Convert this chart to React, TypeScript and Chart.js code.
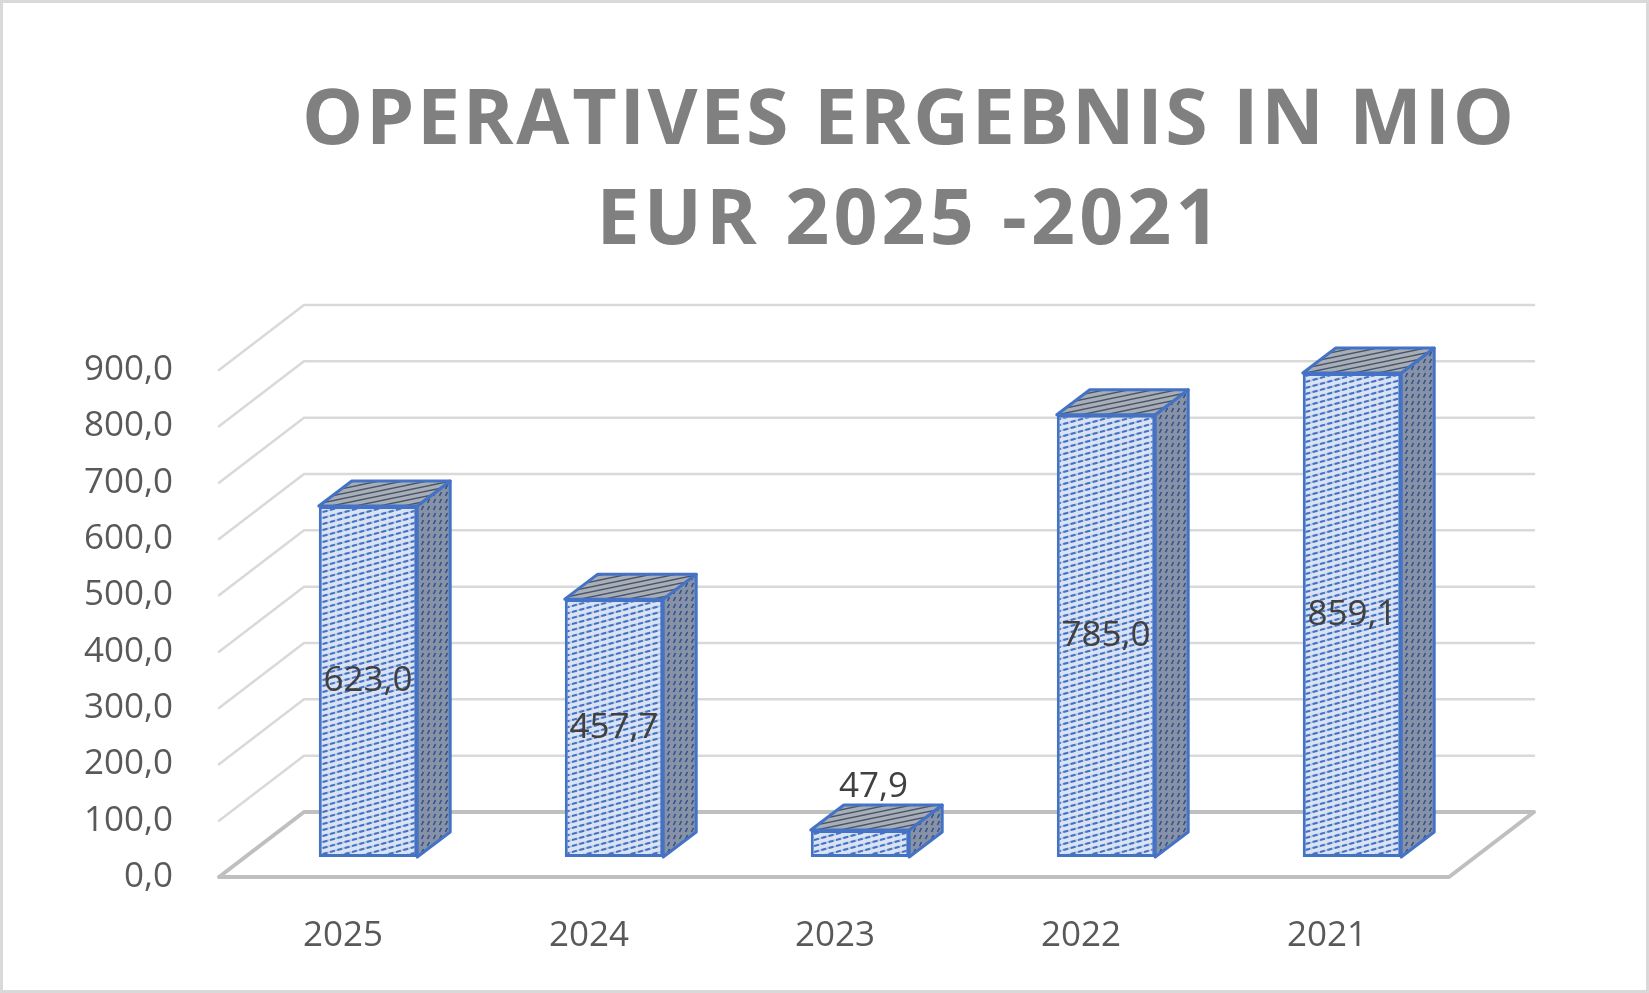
import React from 'react'
import { Chart, registerables, type Plugin } from 'chart.js'

Chart.register(...registerables)

// Chart data
const years = ['2025', '2024', '2023', '2022', '2021']
const ergebnis = [623.0, 457.7, 47.9, 785.0, 859.1]
const yTickValues = [0, 100, 200, 300, 400, 500, 600, 700, 800, 900]
const titleLines = ['OPERATIVES ERGEBNIS IN MIO', 'EUR 2025 -2021']

const fmt = (v: number) => v.toFixed(1).replace('.', ',')

// 3D projection (pixel offsets relative to the bars' front plane)
const FRONT = { dx: -26, dy: 20 }
const BACK = { dx: 59, dy: -45 }
const BAR_DEPTH = { dx: 33, dy: -25 }

const BLUE = '#4472c4'

function makePattern(
  w: number,
  h: number,
  bg: string,
  draw: (ctx: CanvasRenderingContext2D) => void
): CanvasPattern | string {
  const c = document.createElement('canvas')
  c.width = w
  c.height = h
  const ctx = c.getContext('2d')
  if (!ctx) return bg
  ctx.fillStyle = bg
  ctx.fillRect(0, 0, w, h)
  draw(ctx)
  return ctx.createPattern(c, 'repeat') ?? bg
}

function stripes(ctx: CanvasRenderingContext2D, w: number, h: number, color: string, lw: number, dash: number[]) {
  ctx.strokeStyle = color
  ctx.lineWidth = lw
  ctx.setLineDash(dash)
  for (const off of [-h, 0, h]) {
    ctx.beginPath()
    ctx.moveTo(0, h + off)
    ctx.lineTo(w, off)
    ctx.stroke()
  }
  ctx.setLineDash([])
}

const wallsPlugin: Plugin<'bar'> = {
  id: 'walls',
  beforeDatasetsDraw(chart) {
    const { ctx, chartArea: a } = chart
    const y = chart.scales.y
    ctx.save()
    ctx.lineCap = 'round'
    ctx.lineJoin = 'round'
    for (const v of yTickValues) {
      const py = y.getPixelForValue(v)
      const floor = v === 0
      ctx.strokeStyle = floor ? '#bfbfbf' : '#d9d9d9'
      ctx.lineWidth = floor ? 4 : 2.5
      ctx.beginPath()
      ctx.moveTo(a.left + FRONT.dx, py + FRONT.dy)
      ctx.lineTo(a.left + BACK.dx, py + BACK.dy)
      ctx.lineTo(a.right + BACK.dx, py + BACK.dy)
      if (floor) {
        ctx.lineTo(a.right + FRONT.dx, py + FRONT.dy)
        ctx.lineTo(a.left + FRONT.dx, py + FRONT.dy)
      }
      ctx.stroke()
    }
    ctx.restore()
  }
}

function makeBoxPlugin(sidePattern: CanvasPattern | string, topPattern: CanvasPattern | string): Plugin<'bar'> {
  return {
    id: 'box3d',
    afterDatasetsDraw(chart) {
      const { ctx } = chart
      const meta = chart.getDatasetMeta(0)
      ctx.save()
      ctx.lineJoin = 'round'
      ctx.strokeStyle = BLUE
      ctx.lineWidth = 3
      meta.data.forEach((el, i) => {
        const { x, y, base, width } = el.getProps(['x', 'y', 'base', 'width'], true) as any
        const l = x - width / 2
        const r = x + width / 2
        const { dx, dy } = BAR_DEPTH
        // side face
        ctx.beginPath()
        ctx.moveTo(r, base)
        ctx.lineTo(r + dx, base + dy)
        ctx.lineTo(r + dx, y + dy)
        ctx.lineTo(r, y)
        ctx.closePath()
        ctx.fillStyle = sidePattern
        ctx.fill()
        ctx.stroke()
        // top face
        ctx.beginPath()
        ctx.moveTo(l, y)
        ctx.lineTo(l + dx, y + dy)
        ctx.lineTo(r + dx, y + dy)
        ctx.lineTo(r, y)
        ctx.closePath()
        ctx.fillStyle = topPattern
        ctx.fill()
        ctx.stroke()

        // value label
        const v = ergebnis[i]
        ctx.fillStyle = '#404040'
        ctx.font = '35px "Open Sans"'
        ctx.textAlign = 'center'
        ctx.textBaseline = 'middle'
        if (base - y > 60) {
          ctx.fillText(fmt(v), x, (y + base) / 2)
        } else {
          ctx.fillText(fmt(v), x + dx / 2 - 3, y + dy - 18)
        }
      })
      ctx.restore()
    }
  }
}

const titlePlugin: Plugin<'bar'> = {
  id: 'titleAndFrame',
  afterDraw(chart) {
    const { ctx, width, height } = chart
    ctx.save()
    ctx.strokeStyle = '#d9d9d9'
    ctx.lineWidth = 3
    ctx.strokeRect(1.5, 1.5, width - 3, height - 3)

    ctx.fillStyle = '#808080'
    ctx.font = 'bold 77px "Open Sans"'
    ctx.textAlign = 'center'
    ctx.textBaseline = 'alphabetic'
    const targets = [1212, 623]
    const baselines = [144, 244]
    titleLines.forEach((line, i) => {
      ;(ctx as any).letterSpacing = '0px'
      const w = ctx.measureText(line).width
      const sp = Math.max(0, (targets[i] - w) / (line.length - 1))
      ;(ctx as any).letterSpacing = `${sp}px`
      ctx.fillText(line, 908 + sp / 2, baselines[i])
    })
    ;(ctx as any).letterSpacing = '0px'
    ctx.restore()
  }
}

export default function App() {
  const canvasRef = React.useRef<HTMLCanvasElement>(null)

  React.useEffect(() => {
    document.body.style.margin = '0'
    if (!canvasRef.current) return

    const front = makePattern(22, 6, '#dae3f3', ctx => {
      stripes(ctx, 22, 6, '#b4c7e7', 2, [])
      stripes(ctx, 22, 6, BLUE, 2, [5, 2.6])
    })
    const side = makePattern(6, 7, '#8792a6', ctx => {
      ctx.strokeStyle = '#2f4f8f'
      ctx.lineWidth = 1.6
      ctx.beginPath()
      ctx.moveTo(1.5, 6)
      ctx.lineTo(3.5, 2)
      ctx.stroke()
    })
    const top = makePattern(24, 5, '#a9adb5', ctx => {
      stripes(ctx, 24, 5, '#44546a', 1.3, [])
    })

    const chart = new Chart(canvasRef.current, {
      type: 'bar',
      data: {
        labels: years,
        datasets: [
          {
            data: ergebnis,
            backgroundColor: front as any,
            borderColor: BLUE,
            borderWidth: 3,
            borderSkipped: false,
            barPercentage: 0.4,
            categoryPercentage: 1
          }
        ]
      },
      options: {
        animation: false,
        responsive: true,
        maintainAspectRatio: false,
        layout: { padding: { top: 350, right: 174, bottom: 0, left: 0 } },
        plugins: {
          legend: { display: false },
          title: { display: false },
          tooltip: { enabled: false }
        },
        scales: {
          x: {
            grid: { display: false },
            border: { display: false },
            ticks: {
              color: '#595959',
              font: { family: 'Open Sans', size: 35 },
              padding: 50,
              labelOffset: -25
            },
            afterFit: s => {
              s.height = 136
            }
          },
          y: {
            min: 0,
            max: 900,
            grid: { display: false },
            border: { display: false },
            afterBuildTicks: s => {
              s.ticks = yTickValues.map(v => ({ value: v }))
            },
            ticks: {
              color: '#595959',
              font: { family: 'Open Sans', size: 35 },
              padding: 64,
              labelOffset: 20,
              callback: v => fmt(Number(v))
            },
            afterFit: s => {
              s.width = 245
            }
          }
        }
      },
      plugins: [wallsPlugin, makeBoxPlugin(side, top), titlePlugin]
    })

    return () => chart.destroy()
  }, [])

  return (
    <div style={{ width: 1649, height: 993, position: 'relative' }}>
      <canvas ref={canvasRef} />
    </div>
  )
}
